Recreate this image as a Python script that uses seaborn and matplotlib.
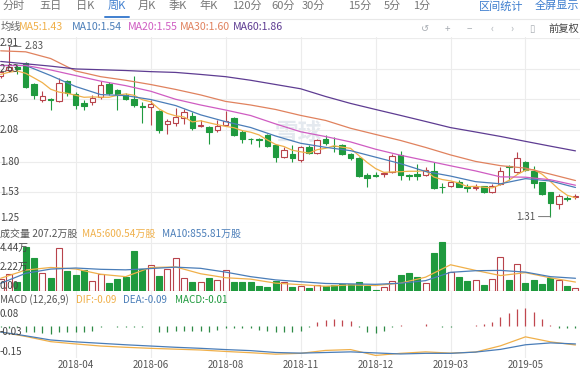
import numpy as np
import pandas as pd
import matplotlib
matplotlib.use("Agg")
import matplotlib.pyplot as plt
import matplotlib.transforms as mtransforms
from matplotlib.lines import Line2D
import seaborn as sns

# ---------------- data (weekly K line) ----------------
open_ = [2.57, 2.62, 2.65, 2.68, 2.495, 2.35, 2.36, 2.34, 2.52, 2.405,
         2.325, 2.33, 2.375, 2.495, 2.44, 2.40, 2.365, 2.30, 2.29, 2.25,
         2.14, 2.15, 2.195, 2.21, 2.12, 2.11, 2.085, 2.13, 2.19, 2.07,
         2.005, 2.00, 2.04, 1.95, 1.84, 1.87, 1.82, 1.935, 1.88, 2.00,
         1.945, 1.95, 1.87, 1.83, 1.685, 1.68, 1.69, 1.71, 1.86, 1.685,
         1.69, 1.685, 1.72, 1.575, 1.58, 1.62, 1.575, 1.565, 1.58, 1.53,
         1.60, 1.765, 1.71, 1.80, 1.72, 1.615, 1.53, 1.42, 1.475, 1.485]
close = [2.60, 2.65, 2.63, 2.47, 2.395, 2.39, 2.355, 2.50, 2.415, 2.31,
         2.30, 2.37, 2.49, 2.41, 2.40, 2.36, 2.31, 2.29, 2.32, 2.08,
         2.16, 2.20, 2.24, 2.10, 2.13, 2.07, 2.115, 2.165, 2.04, 2.00,
         2.00, 1.995, 1.94, 1.84, 1.905, 1.83, 1.93, 1.88, 1.995, 1.965,
         1.94, 1.87, 1.83, 1.67, 1.655, 1.67, 1.70, 1.85, 1.68, 1.675,
         1.67, 1.725, 1.565, 1.57, 1.615, 1.575, 1.565, 1.575, 1.53, 1.585,
         1.72, 1.755, 1.835, 1.73, 1.61, 1.51, 1.43, 1.49, 1.465, 1.495]
high = [2.62, 2.83, 2.67, 2.69, 2.50, 2.43, 2.37, 2.55, 2.53, 2.42,
        2.35, 2.40, 2.52, 2.51, 2.45, 2.41, 2.565, 2.33, 2.35, 2.26,
        2.18, 2.28, 2.27, 2.24, 2.17, 2.12, 2.17, 2.25, 2.20, 2.08,
        2.01, 2.01, 2.05, 1.96, 1.93, 1.95, 1.94, 1.95, 2.00, 2.04,
        2.02, 1.96, 1.88, 1.84, 1.70, 1.71, 1.71, 1.87, 1.90, 1.69,
        1.78, 1.75, 1.80, 1.61, 1.63, 1.64, 1.60, 1.60, 1.585, 1.60,
        1.75, 1.77, 1.89, 1.81, 1.76, 1.62, 1.53, 1.51, 1.49, 1.51]
low = [2.55, 2.60, 2.58, 2.46, 2.36, 2.33, 2.26, 2.33, 2.39, 2.27,
       2.26, 2.31, 2.36, 2.40, 2.26, 2.35, 2.29, 2.15, 2.13, 2.06,
       2.05, 2.12, 2.14, 2.08, 2.11, 1.96, 2.07, 2.12, 2.03, 1.965,
       1.96, 1.93, 1.93, 1.80, 1.83, 1.80, 1.80, 1.87, 1.87, 1.95,
       1.89, 1.86, 1.82, 1.665, 1.57, 1.66, 1.66, 1.70, 1.64, 1.64,
       1.64, 1.67, 1.56, 1.52, 1.57, 1.57, 1.53, 1.55, 1.525, 1.52,
       1.59, 1.64, 1.70, 1.72, 1.565, 1.50, 1.31, 1.38, 1.45, 1.47]

# price moving averages
ma5 = [2.58, 2.60, 2.61, 2.59, 2.549, 2.507, 2.448, 2.422, 2.411, 2.394,
       2.376, 2.379, 2.377, 2.376, 2.394, 2.406, 2.394, 2.354, 2.336, 2.272,
       2.232, 2.21, 2.20, 2.156, 2.166, 2.148, 2.131, 2.116, 2.104, 2.078,
       2.064, 2.040, 1.995, 1.955, 1.936, 1.903, 1.889, 1.877, 1.908, 1.92,
       1.942, 1.93, 1.92, 1.855, 1.793, 1.739, 1.705, 1.709, 1.711, 1.715,
       1.715, 1.72, 1.663, 1.641, 1.629, 1.61, 1.578, 1.58, 1.572, 1.566,
       1.595, 1.633, 1.685, 1.725, 1.73, 1.688, 1.623, 1.554, 1.501, 1.478]
ma_idx = list(range(0, 70, 3))
ma10 = [2.66, 2.66, 2.57, 2.472, 2.40, 2.391, 2.356, 2.302, 2.219, 2.158, 2.106, 2.03,
        1.965, 1.929, 1.899, 1.841, 1.783, 1.713, 1.672, 1.622, 1.603, 1.649, 1.628, 1.57]
ma20 = [2.66, 2.66, 2.62, 2.57, 2.52, 2.48, 2.43, 2.358, 2.307, 2.262, 2.213, 2.138,
        2.068, 2.025, 1.977, 1.912, 1.858, 1.811, 1.764, 1.718, 1.665, 1.662, 1.639, 1.59]
ma30 = [2.791, 2.782, 2.722, 2.611, 2.560, 2.528, 2.490, 2.446, 2.397, 2.339, 2.307, 2.267,
        2.214, 2.169, 2.099, 2.044, 1.990, 1.928, 1.861, 1.803, 1.765, 1.743, 1.689, 1.632]
ma60 = [2.696, 2.675, 2.654, 2.629, 2.622, 2.615, 2.605, 2.598, 2.580, 2.560, 2.528, 2.490,
        2.452, 2.383, 2.321, 2.267, 2.214, 2.160, 2.105, 2.066, 2.026, 1.982, 1.939, 1.897]

# volume (axis units) and its averages
volume = [1.08, 1.52, 0.83, 4.07, 3.00, 1.67, 1.20, 3.92, 1.82, 1.45,
          1.91, 0.90, 1.54, 0.74, 1.08, 1.24, 3.67, 2.01, 2.38, 1.36,
          1.98, 3.05, 1.15, 0.83, 0.83, 1.15, 0.99, 1.91, 0.83, 0.83,
          0.78, 0.43, 0.31, 0.93, 0.78, 0.37, 0.43, 0.28, 0.53, 0.46,
          0.53, 0.59, 0.59, 0.83, 0.43, 0.05, 0.37, 0.90, 1.45, 1.61,
          1.30, 0.68, 3.52, 4.53, 1.76, 1.24, 0.90, 0.99, 0.53, 1.05,
          3.15, 0.99, 2.47, 0.68, 0.99, 0.59, 1.20, 0.99, 0.43, 0.28]
vol_ma5 = [1.15, 1.91, 2.15, 2.01, 1.52, 1.30, 2.15, 2.20, 1.57, 1.20, 1.07, 0.70,
           0.56, 0.41, 0.54, 0.48, 0.70, 1.25, 2.40, 1.88, 1.40, 1.67, 1.19, 0.80]
vol_ma10 = [0.68, 1.61, 2.00, 2.10, 1.98, 1.93, 2.05, 2.18, 2.07, 1.72, 1.30, 1.00,
            0.83, 0.67, 0.63, 0.59, 0.69, 0.93, 1.70, 1.85, 1.88, 1.72, 1.30, 1.15]

# MACD
macd_hist = [-0.005, -0.01, -0.005, -0.03, -0.03, -0.035, -0.04, -0.03, -0.03, -0.03,
             -0.03, -0.025, -0.006, -0.002, -0.004, -0.005, -0.005, -0.006, -0.002, -0.03,
             -0.03, -0.025, -0.025, -0.025, -0.025, -0.03, -0.02, -0.008, -0.01, -0.01,
             -0.01, -0.02, -0.025, -0.03, -0.03, -0.03, -0.025, -0.005, 0.02, 0.03,
             0.035, 0.03, 0.025, -0.005, -0.03, -0.035, -0.025, -0.005, 0.005, 0.002,
             0.002, 0.01, -0.002, -0.005, -0.005, -0.002, 0.002, 0.005, 0.01, 0.02,
             0.045, 0.06, 0.08, 0.085, 0.065, 0.035, 0.005, -0.01, -0.01, -0.01]
dif = [-0.029, -0.05, -0.075, -0.086, -0.096, -0.102, -0.107, -0.111, -0.115, -0.122, -0.128, -0.135,
       -0.131, -0.117, -0.113, -0.141, -0.131, -0.124, -0.13, -0.125, -0.095, -0.052, -0.076, -0.091]
dea = [-0.029, -0.047, -0.067, -0.076, -0.083, -0.09, -0.096, -0.102, -0.107, -0.113, -0.118, -0.127,
       -0.130, -0.127, -0.124, -0.129, -0.134, -0.131, -0.131, -0.125, -0.112, -0.09, -0.081, -0.086]

date_pos = [9, 18, 27, 36, 45, 54, 63]
date_labels = ["2018-04", "2018-06", "2018-08", "2018-11", "2018-12", "2019-03", "2019-05"]

price_ticks = [2.91, 2.63, 2.36, 2.08, 1.80, 1.53, 1.25]
vol_ticks = [4.44, 2.22, 0.0]
vol_tick_labels = ["4.44万", "2.22万", "0.00"]
macd_ticks = [0.08, -0.03, -0.15]

tab_labels = ["分时", "五日", "日K", "周K", "月K", "季K", "年K", "120分", "60分", "30分", "15分", "5分", "1分"]
ma_legend = ["MA5:1.43", "MA10:1.54", "MA20:1.55", "MA30:1.60", "MA60:1.86"]

# ---------------- style ----------------
sns.set_theme(style="white")
plt.rcParams["font.family"] = ["Noto Sans CJK SC", "DejaVu Sans"]
plt.rcParams["axes.unicode_minus"] = False

RED = "#b8434b"
GREEN = "#1f9a3e"
GRID = "#ececec"
C_MA = ["#f0b04a", "#4a7db8", "#cf5cc2", "#e0825e", "#5e3c92"]
C_TXT = "#555555"
BLUE_TXT = "#3f7fcf"

W, H = 580, 369
fig = plt.figure(figsize=(W / 100, H / 100), dpi=100)
fig.patch.set_facecolor("white")


def rect(top, bottom):
    return [0.0, 1 - bottom / H, 1.0, (bottom - top) / H]


def fx(px):
    return px / W


def fy(py):
    return 1 - py / H


XLIM = (-0.084, 69.544)
n = len(close)
x = np.arange(n)
o = np.array(open_); c = np.array(close); hi = np.array(high); lo = np.array(low)
up = c >= o
cols = np.where(up, RED, GREEN)
faces = np.where(up, "white", GREEN)


def clean(ax):
    ax.set_xlim(*XLIM)
    for s in ax.spines.values():
        s.set_visible(False)
    ax.tick_params(left=False, bottom=False, labelleft=False, labelbottom=False)
    ax.set_xlabel("")
    ax.set_ylabel("")
    ax.patch.set_alpha(0)


# background axis with the vertical grid running through all panels
ax_bg = fig.add_axes(rect(37, 357.5), zorder=0)
ax_bg.set_ylim(0, 1)
ax_bg.set_xticks(date_pos)
ax_bg.set_yticks([])
ax_bg.grid(axis="x", color=GRID, lw=0.8)
clean(ax_bg)
ax_bg.patch.set_alpha(1)
ax_bg.patch.set_facecolor("white")
ax_bg.text(0.515, 0.70, "雪球", transform=ax_bg.transAxes, fontsize=17,
           color="#e4e9ef", ha="center", va="center", fontweight="bold")

# ---------------- price panel ----------------
ax_p = fig.add_axes(rect(37.5, 223.3), zorder=1)
clean(ax_p)
ax_p.set_ylim(1.25, 2.91)
for v in price_ticks:
    ax_p.axhline(v, color=GRID, lw=0.8, zorder=0)
ax_p.vlines(x, lo, hi, colors=cols, lw=0.8, zorder=2)
ax_p.bar(x, np.abs(c - o), bottom=np.minimum(o, c), width=0.66, color=faces,
         edgecolor=cols, linewidth=0.8, zorder=3)
sns.lineplot(x=list(x), y=ma5, ax=ax_p, color=C_MA[0], linewidth=0.9, zorder=4)
for series, col in zip([ma10, ma20, ma30, ma60], C_MA[1:]):
    sns.lineplot(x=ma_idx, y=series, ax=ax_p, color=col, linewidth=0.9, zorder=4)
clean(ax_p)
ax_p.set_ylim(1.25, 2.91)

trans_p = mtransforms.blended_transform_factory(ax_p.transAxes, ax_p.transData)
for v in price_ticks:
    va = "top" if v == max(price_ticks) else ("bottom" if v == min(price_ticks) else "center")
    ax_p.text(0.0, v, f"{v:.2f}", transform=trans_p, fontsize=7, color="#444444",
              ha="left", va=va, zorder=5)

imax = int(np.argmax(hi)); imin = int(np.argmin(lo))
ax_p.annotate(f"{hi[imax]:.2f}", xy=(imax, hi[imax]), xytext=(11, 0), textcoords="offset points",
              fontsize=7, color="#555555", ha="left", va="center",
              arrowprops=dict(arrowstyle="-", color="#777777", lw=0.7, shrinkA=0, shrinkB=0), zorder=6)
ax_p.annotate(f"{lo[imin]:.2f}", xy=(imin, lo[imin]), xytext=(-11, 0), textcoords="offset points",
              fontsize=7, color="#555555", ha="right", va="center",
              arrowprops=dict(arrowstyle="-", color="#777777", lw=0.7, shrinkA=0, shrinkB=0), zorder=6)

# ---------------- volume panel ----------------
ax_v = fig.add_axes(rect(241.0, 290.7), zorder=1)
clean(ax_v)
ax_v.set_ylim(0, 4.6)
for v in [vol_ticks[0], vol_ticks[-1]]:
    ax_v.axhline(v, color=GRID, lw=0.8, zorder=0)
ax_v.bar(x, volume, width=0.72, color=faces, edgecolor=cols, linewidth=0.8, zorder=2)
sns.lineplot(x=ma_idx, y=vol_ma5, ax=ax_v, color=C_MA[0], linewidth=0.9, zorder=3)
sns.lineplot(x=ma_idx, y=vol_ma10, ax=ax_v, color=C_MA[1], linewidth=0.9, zorder=3)
clean(ax_v)
ax_v.set_ylim(0, 4.6)
trans_v = mtransforms.blended_transform_factory(ax_v.transAxes, ax_v.transData)
for v, lab in zip(vol_ticks, vol_tick_labels):
    va = "top" if v == max(vol_ticks) else ("bottom" if v == min(vol_ticks) else "center")
    ax_v.text(0.0, v, lab, transform=trans_v, fontsize=7, color="#444444",
              ha="left", va=va, zorder=5)

# ---------------- MACD panel ----------------
ax_m = fig.add_axes(rect(307.2, 357.3), zorder=1)
clean(ax_m)
ax_m.set_ylim(-0.15, 0.09)
hist = np.array(macd_hist)
ax_m.vlines(x, 0, hist, colors=np.where(hist >= 0, "#c0474f", "#2d8a45"), lw=0.9, zorder=2)
sns.lineplot(x=ma_idx, y=dif, ax=ax_m, color=C_MA[0], linewidth=0.9, zorder=3)
sns.lineplot(x=ma_idx, y=dea, ax=ax_m, color=C_MA[1], linewidth=0.9, zorder=3)
clean(ax_m)
ax_m.set_ylim(-0.15, 0.09)
trans_m = mtransforms.blended_transform_factory(ax_m.transAxes, ax_m.transData)
for v in macd_ticks:
    va = "top" if v == max(macd_ticks) else ("bottom" if v == min(macd_ticks) else "center")
    ax_m.text(0.0, v, f"{v:.2f}", transform=trans_m, fontsize=7, color="#444444",
              ha="left", va=va, zorder=5)
ax_m.set_xticks(date_pos)
ax_m.set_xticklabels(date_labels)
ax_m.tick_params(labelbottom=True, bottom=False, length=0, pad=2.2, labelsize=7, labelcolor=C_TXT)

# ---------------- header rows ----------------
tab_centers = [14, 51, 85, 117, 147, 178, 209, 247, 283, 313, 360, 392, 422]
for lab, cx in zip(tab_labels, tab_centers):
    sel = lab == "周K"
    fig.text(fx(cx), fy(6), lab, fontsize=8, ha="center", va="center",
             color=BLUE_TXT if sel else "#777777")
fig.add_artist(Line2D([fx(105), fx(129)], [fy(16.5), fy(16.5)], color=BLUE_TXT, lw=1.4))
fig.text(fx(501), fy(6), "区间统计", fontsize=8, ha="center", va="center", color=BLUE_TXT)
fig.text(fx(579), fy(6), "全屏显示", fontsize=8, ha="right", va="center", color=BLUE_TXT)
fig.add_artist(Line2D([0, 1], [fy(18.5), fy(18.5)], color="#e8e8e8", lw=0.8))

fig.text(fx(0.5), fy(27), "均线", fontsize=7.4, ha="left", va="center", color="#666666")
for lab, lx, col in zip(ma_legend, [19, 72, 128, 180, 233], C_MA):
    fig.text(fx(lx), fy(27), lab, fontsize=7.6, ha="left", va="center", color=col)
for sym, cx in zip(["↺", "+", "−", "‹", "›", "▯"], [425, 447, 469, 492, 512, 532]):
    fig.text(fx(cx), fy(29), sym, fontsize=7, ha="center", va="center", color="#a8adb3")
fig.text(fx(579), fy(29), "前复权", fontsize=7.4, ha="right", va="center", color="#444444")

fig.text(fx(0.5), fy(233.5), "成交量 207.2万股", fontsize=7.2, ha="left", va="center", color="#555555")
fig.text(fx(82), fy(233.5), "MA5:600.54万股", fontsize=7.2, ha="left", va="center", color=C_MA[0])
fig.text(fx(162), fy(233.5), "MA10:855.81万股", fontsize=7.2, ha="left", va="center", color=C_MA[1])

fig.text(fx(0.5), fy(300), "MACD (12,26,9)", fontsize=7.1, ha="left", va="center", color="#555555")
fig.text(fx(76), fy(300), "DIF:-0.09", fontsize=7.1, ha="left", va="center", color=C_MA[0])
fig.text(fx(123), fy(300), "DEA:-0.09", fontsize=7.1, ha="left", va="center", color=C_MA[1])
fig.text(fx(175), fy(300), "MACD:-0.01", fontsize=7.1, ha="left", va="center", color=GREEN)

fig.savefig("out.png", dpi=100, facecolor="white")
